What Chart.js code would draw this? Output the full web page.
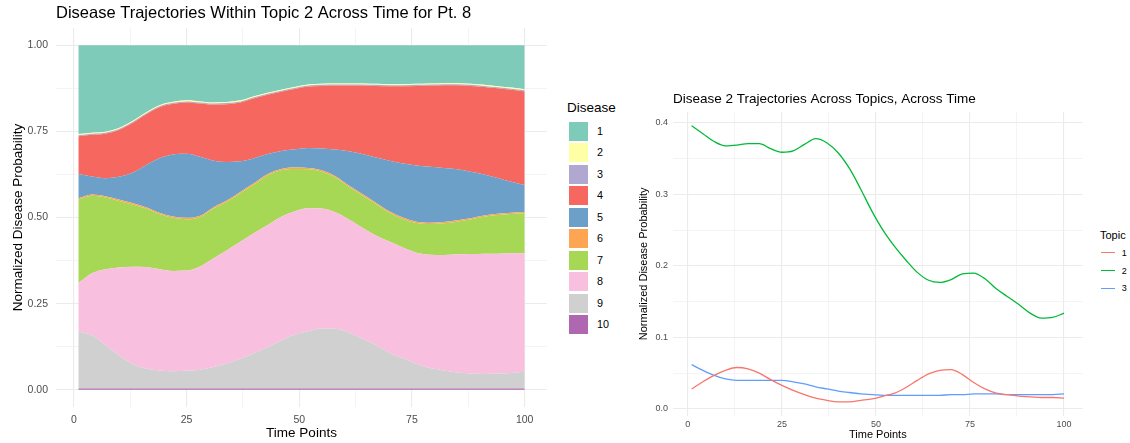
<!DOCTYPE html>
<html><head><meta charset="utf-8">
<script src="https://cdn.jsdelivr.net/npm/chart.js@4.4.0/dist/chart.umd.min.js"></script>
<style>
body{margin:0;background:#fff;width:1130px;height:443px;overflow:hidden;position:relative;font-family:"Liberation Sans",Arial,sans-serif;}
canvas{position:absolute;top:0;}
#c1{left:0;}
#c2{left:630px;}
.lt{position:absolute;white-space:nowrap;color:#000;line-height:1;}
.key{position:absolute;}
</style></head><body>
<canvas id="c1" width="560" height="443" style="width:560px;height:443px"></canvas>
<canvas id="c2" width="465" height="443" style="width:465px;height:443px"></canvas>
<div id="leg"></div>
<script>
// ---------- data ----------
const timePoints = [1,4,7,10,13,16,19,22,25,28,31,34,37,40,43,46,49,52,55,58,61,64,67,70,73,76,79,82,85,88,91,94,97,100];
const diseases = ['1','2','3','4','5','6','7','8','9','10'];
const disease1 = [0.258,0.254,0.251,0.240,0.220,0.195,0.174,0.164,0.160,0.163,0.166,0.165,0.160,0.148,0.138,0.129,0.121,0.114,0.112,0.111,0.111,0.111,0.112,0.113,0.113,0.112,0.111,0.110,0.110,0.112,0.115,0.119,0.123,0.128];
const disease2 = [0.003,0.003,0.003,0.003,0.003,0.003,0.003,0.003,0.003,0.003,0.003,0.003,0.003,0.003,0.003,0.003,0.003,0.003,0.003,0.003,0.003,0.003,0.003,0.003,0.003,0.003,0.003,0.003,0.003,0.003,0.003,0.003,0.003,0.003];
const disease3 = [0.003,0.003,0.003,0.003,0.003,0.003,0.003,0.003,0.003,0.003,0.003,0.003,0.003,0.003,0.003,0.003,0.003,0.003,0.003,0.003,0.003,0.003,0.003,0.003,0.003,0.003,0.003,0.003,0.003,0.003,0.003,0.003,0.003,0.003];
const disease4 = [0.110,0.121,0.129,0.136,0.144,0.147,0.148,0.147,0.149,0.155,0.163,0.168,0.171,0.174,0.172,0.172,0.175,0.178,0.182,0.186,0.191,0.199,0.208,0.216,0.224,0.231,0.236,0.240,0.244,0.249,0.254,0.260,0.267,0.272];
const disease5 = [0.070,0.052,0.052,0.066,0.088,0.122,0.158,0.180,0.186,0.171,0.135,0.111,0.088,0.072,0.058,0.052,0.053,0.058,0.063,0.077,0.099,0.116,0.131,0.147,0.157,0.163,0.162,0.157,0.148,0.135,0.119,0.104,0.090,0.078];
const disease6 = [0.004,0.004,0.004,0.004,0.004,0.004,0.004,0.004,0.004,0.004,0.004,0.004,0.004,0.004,0.004,0.004,0.004,0.004,0.004,0.004,0.004,0.004,0.004,0.004,0.004,0.004,0.004,0.004,0.004,0.004,0.004,0.004,0.004,0.004];
const disease7 = [0.243,0.225,0.208,0.193,0.181,0.170,0.160,0.154,0.149,0.143,0.144,0.141,0.141,0.141,0.144,0.135,0.123,0.113,0.107,0.101,0.095,0.094,0.091,0.084,0.083,0.086,0.089,0.092,0.095,0.100,0.107,0.112,0.114,0.116];
const disease8 = [0.140,0.180,0.220,0.255,0.282,0.294,0.294,0.291,0.291,0.300,0.316,0.328,0.340,0.349,0.354,0.359,0.358,0.357,0.348,0.338,0.328,0.322,0.318,0.323,0.321,0.323,0.329,0.335,0.343,0.347,0.349,0.348,0.347,0.344];
const disease9 = [0.165,0.154,0.126,0.096,0.071,0.058,0.052,0.050,0.051,0.054,0.062,0.073,0.086,0.102,0.120,0.139,0.156,0.166,0.174,0.173,0.162,0.144,0.126,0.103,0.088,0.071,0.059,0.052,0.046,0.043,0.042,0.043,0.045,0.048];
const disease10 = [0.004,0.004,0.004,0.004,0.004,0.004,0.004,0.004,0.004,0.004,0.004,0.004,0.004,0.004,0.004,0.004,0.004,0.004,0.004,0.004,0.004,0.004,0.004,0.004,0.004,0.004,0.004,0.004,0.004,0.004,0.004,0.004,0.004,0.004];
const diseaseColors = ['#7ECBBA','#FFFFA6','#B1A8D1','#F6685F','#6DA0C8','#FDA553','#A6D855','#F8BFDF','#D0D0D0','#AE67B0'];

const topics = ['1','2','3'];
const topic1 = [0.028,0.038,0.047,0.054,0.058,0.056,0.050,0.041,0.033,0.026,0.020,0.015,0.012,0.010,0.010,0.012,0.014,0.018,0.022,0.030,0.040,0.049,0.054,0.055,0.048,0.037,0.028,0.022,0.020,0.018,0.017,0.016,0.016,0.015];
const topic2 = [0.396,0.385,0.374,0.368,0.369,0.371,0.371,0.364,0.359,0.361,0.370,0.378,0.372,0.358,0.336,0.307,0.276,0.249,0.227,0.208,0.191,0.180,0.177,0.181,0.189,0.190,0.182,0.168,0.157,0.146,0.134,0.127,0.128,0.134];
const topic3 = [0.062,0.054,0.047,0.042,0.040,0.040,0.040,0.040,0.040,0.038,0.035,0.031,0.028,0.025,0.023,0.021,0.020,0.019,0.019,0.019,0.019,0.019,0.019,0.020,0.020,0.021,0.021,0.021,0.020,0.020,0.020,0.020,0.020,0.021];
const topicColors = ['#F8766D','#00BA38','#619CFF'];

const xMajor = [0,25,50,75,100];
const xMinor = [12.5,37.5,62.5,87.5];
const yMajorLeft = [0,0.25,0.5,0.75,1];
const yMinorLeft = [0.125,0.375,0.625,0.875];
const yMajorRight = [0,0.1,0.2,0.3,0.4];
const yMinorRight = [0.05,0.15,0.25,0.35];

// ---------- helpers ----------
const FONT = '"Liberation Sans", Arial, sans-serif';
const GRID = '#EBEBEB';
function isMajor(v, majors){ return majors.some(m => Math.abs(m - v) < 1e-9); }
function gridOpts(majors){
  return {
    color: GRID,
    lineWidth: ctx => (ctx.tick && isMajor(ctx.tick.value, majors)) ? 1.1 : 0.55,
    drawTicks: false
  };
}
function setTicks(majors, minors){
  return scale => { scale.ticks = majors.concat(minors).sort((a,b)=>a-b).map(v => ({value: v})); };
}

// ---------- left: stacked area ----------
const diseaseSeries = [disease1,disease2,disease3,disease4,disease5,disease6,disease7,disease8,disease9,disease10];
const leftSets = [];
for (let k = diseaseSeries.length - 1; k >= 0; k--) {
  leftSets.push({
    label: diseases[k],
    data: timePoints.map((t, i) => ({x: t, y: diseaseSeries[k][i]})),
    backgroundColor: diseaseColors[k],
    borderColor: diseaseColors[k],
    borderWidth: 0,
    pointRadius: 0,
    fill: k === diseaseSeries.length - 1 ? 'origin' : '-1',
    cubicInterpolationMode: 'monotone'
  });
}

new Chart(document.getElementById('c1'), {
  type: 'line',
  data: { datasets: leftSets },
  options: {
    responsive: false, animation: false, devicePixelRatio: 1,
    layout: { padding: { left: 0, right: 13, top: 0, bottom: 0 } },
    plugins: {
      legend: { display: false },
      tooltip: { enabled: false },
      title: {
        display: true, text: 'Disease Trajectories Within Topic 2 Across Time for Pt. 8',
        align: 'start', fullSize: false, color: '#000',
        font: { family: FONT, size: 16.5, weight: 'normal', lineHeight: 1.2 },
        padding: { top: 4, bottom: 4.2 }
      }
    },
    scales: {
      x: {
        type: 'linear', min: -3.95, max: 104.95,
        afterBuildTicks: setTicks(xMajor, xMinor),
        afterFit: s => { s.height = 36; },
        grid: gridOpts(xMajor), border: { display: false },
        ticks: { autoSkip: false, maxRotation: 0, padding: 7, color: '#4D4D4D',
          font: { family: FONT, size: 10.5 },
          callback: v => isMajor(v, xMajor) ? String(v) : '' },
        title: { display: true, text: 'Time Points', color: '#000',
          font: { family: FONT, size: 13.5, lineHeight: 1.2 }, padding: { top: 0, bottom: 1.4 } }
      },
      y: {
        type: 'linear', min: -0.05, max: 1.05, stacked: true,
        afterBuildTicks: setTicks(yMajorLeft, yMinorLeft),
        afterFit: s => { s.width = 56; },
        grid: gridOpts(yMajorLeft), border: { display: false },
        ticks: { autoSkip: false, padding: 8, color: '#4D4D4D',
          font: { family: FONT, size: 10.5 },
          callback: v => isMajor(v, yMajorLeft) ? v.toFixed(2) : '' },
        title: { display: true, text: 'Normalized Disease Probability', color: '#000',
          font: { family: FONT, size: 13.5, lineHeight: 1.2 }, padding: { top: 9.9, bottom: 0 } }
      }
    }
  }
});

// ---------- right: lines ----------
const topicSeries = [topic1, topic2, topic3];
const rightSets = topicSeries.map((s, k) => ({
  label: topics[k],
  data: timePoints.map((t, i) => ({x: t, y: s[i]})),
  borderColor: topicColors[k],
  backgroundColor: topicColors[k],
  borderWidth: 1.3,
  pointRadius: 0,
  fill: false,
  cubicInterpolationMode: 'monotone'
}));

new Chart(document.getElementById('c2'), {
  type: 'line',
  data: { datasets: rightSets },
  options: {
    responsive: false, animation: false, devicePixelRatio: 1,
    layout: { padding: { left: 0, right: 12.4, top: 0, bottom: 0 } },
    plugins: {
      legend: { display: false },
      tooltip: { enabled: false },
      title: {
        display: true, text: 'Disease 2 Trajectories Across Topics, Across Time',
        align: 'start', fullSize: false, color: '#000',
        font: { family: FONT, size: 13.5, weight: 'normal', lineHeight: 1.2 },
        padding: { top: 91.2, bottom: 4.6 }
      }
    },
    scales: {
      x: {
        type: 'linear', min: -3.95, max: 104.95,
        afterBuildTicks: setTicks(xMajor, xMinor),
        afterFit: s => { s.height = 27.4; },
        grid: gridOpts(xMajor), border: { display: false },
        ticks: { autoSkip: false, maxRotation: 0, padding: 3.6, color: '#4D4D4D',
          font: { family: FONT, size: 9 },
          callback: v => isMajor(v, xMajor) ? String(v) : '' },
        title: { display: true, text: 'Time Points', color: '#000',
          font: { family: FONT, size: 11, lineHeight: 1.2 }, padding: { top: 0, bottom: 1.4 } }
      },
      y: {
        type: 'linear', min: -0.0093, max: 0.4153,
        afterBuildTicks: setTicks(yMajorRight, yMinorRight),
        afterFit: s => { s.width = 43; },
        grid: gridOpts(yMajorRight), border: { display: false },
        ticks: { autoSkip: false, padding: 5, color: '#4D4D4D',
          font: { family: FONT, size: 9 },
          callback: v => isMajor(v, yMajorRight) ? v.toFixed(1) : '' },
        title: { display: true, text: 'Normalized Disease Probability', color: '#000',
          font: { family: FONT, size: 11, lineHeight: 1.2 }, padding: { top: 7.4, bottom: 0 } }
      }
    }
  }
});

// ---------- legends (HTML text) ----------
const leg = document.getElementById('leg');
function addText(txt, left, cy, size){
  const d = document.createElement('div');
  d.className = 'lt'; d.textContent = txt;
  d.style.left = left + 'px'; d.style.top = (cy - size/2) + 'px';
  d.style.fontSize = size + 'px'; d.style.height = size + 'px';
  leg.appendChild(d);
}
addText('Disease', 567, 108, 13.5);
diseases.forEach((name, i) => {
  const top = 121.7 + i * 21.5;
  const k = document.createElement('div');
  k.className = 'key';
  k.style.cssText = `left:569px;top:${top}px;width:19px;height:19px;background:${diseaseColors[i]};`;
  leg.appendChild(k);
  addText(name, 597, top + 9.5, 10.8);
});
addText('Topic', 1100, 235.7, 11);
topics.forEach((name, i) => {
  const cy = 253.3 + i * 17.8;
  const k = document.createElement('div');
  k.className = 'key';
  k.style.cssText = `left:1101px;top:${Math.round(cy) - 1}px;width:14px;height:1px;background:${topicColors[i]};`;
  leg.appendChild(k);
  addText(name, 1121.7, cy, 9);
});
</script>
</body></html>
